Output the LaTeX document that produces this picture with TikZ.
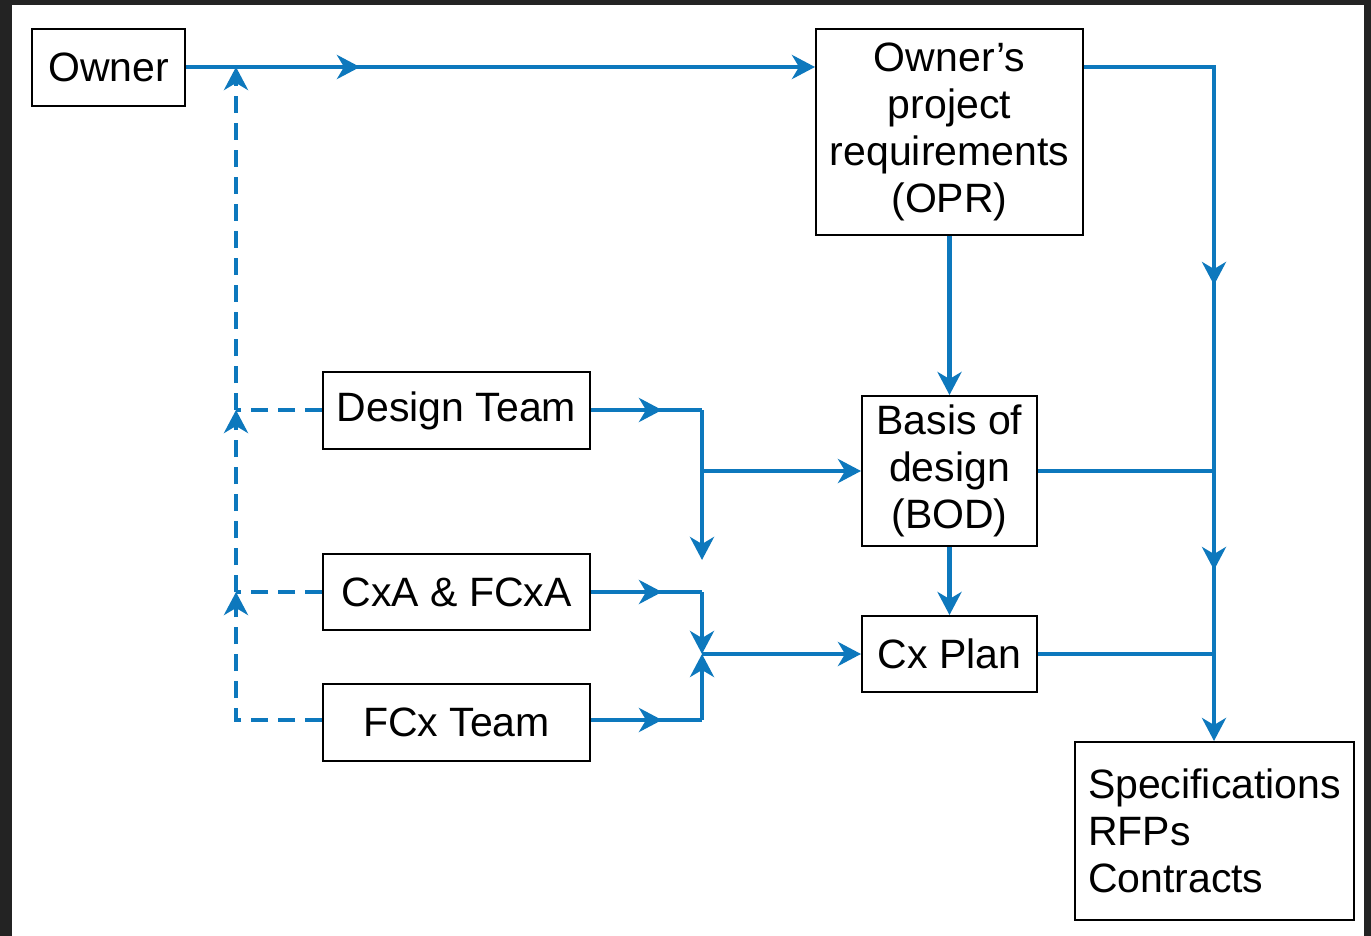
\documentclass[tikz,border=0pt]{standalone}
\usepackage{fontspec}
\setmainfont{Liberation Sans}
\usetikzlibrary{arrows.meta}
\definecolor{flowblue}{HTML}{0D78BD}
\definecolor{frame}{HTML}{232323}

\begin{document}
\begin{tikzpicture}[
  x=0.5pt,y=-0.5pt,
  box/.style={draw,line width=1pt,align=center,inner sep=0pt,
    font=\fontsize{20.5}{23.5}\selectfont},
  tip/.style={-{Stealth[length=11.5pt,width=12pt,inset=3.5pt]}},
  link/.style={flowblue,line width=2.4pt},
  flow/.style={link,tip},
  back/.style={link,dash pattern=on 8.5pt off 5pt}
]
% frame and page
\fill[frame] (0,0) rectangle (1371,936);
\fill[white] (12,5) rectangle (1364,936);

% boxes
\node[box,minimum width=76.5pt,minimum height=38.5pt] (owner) at (108.5,67.5) {Owner};
\node[box,minimum width=133.5pt,minimum height=103pt] (opr) at (949.5,132)
  {Owner’s\\project\\requirements\\(OPR)};
\node[box,minimum width=133.5pt,minimum height=38.5pt] (design) at (456.5,410.5) {Design Team};
\node[box,minimum width=133.5pt,minimum height=38pt] (cxa) at (456.5,592) {CxA \& FCxA};
\node[box,minimum width=133.5pt,minimum height=38.5pt] (fcx) at (456.5,722.5) {FCx Team};
\node[box,minimum width=87.5pt,minimum height=75pt] (bod) at (949.5,471) {Basis of\\design\\(BOD)};
\node[box,minimum width=87.5pt,minimum height=38pt] (cx) at (949.5,654) {Cx Plan};
\node[box,minimum width=139.5pt,minimum height=89pt,align=left] (spec) at (1214.5,831)
  {Specifications\\RFPs\\Contracts};

% bends and mid arrows
\coordinate (m1) at (360,67);
\coordinate (s1) at (1214,67);
\coordinate (s2) at (1214,285);
\coordinate (s4) at (1214,570);
\coordinate (d1) at (662,410);
\coordinate (d2) at (702,410);
\coordinate (d4) at (702,560);
\coordinate (c1) at (662,592);
\coordinate (c2) at (702,592);
\coordinate (f1) at (662,720);
\coordinate (f2) at (702,720);
\coordinate (c3) at (d2 |- cx.west);
\coordinate (j0) at (236,67);
\coordinate (jd) at (236,410);
\coordinate (jc) at (236,592);

% owner to OPR
\draw[flow] (owner.east |- m1) -- (m1 -| opr.west);
\draw[flow] (owner.east |- m1) -- (m1);
\draw[flow] (opr) -- (bod);
\draw[flow] (bod) -- (cx);

% right trunk to specifications
\draw[flow] (m1 -| opr.east) -- (s1) -- (s1 |- spec.north);
\draw[flow] (s1) -- (s2);
\draw[flow] (s1) -- (s4);
\draw[link] (bod.east) -- (bod.east -| s1);
\draw[link] (cx.east) -- (cx.east -| s1);

% teams into BOD and Cx plan
\draw[link] (design.east |- d1) -- (d2);
\draw[flow] (design.east |- d1) -- (d1);
\draw[flow] (d2) -- (d4);
\draw[flow] (d2 |- bod.west) -- (bod.west);
\draw[link] (cxa.east |- c1) -- (c2);
\draw[flow] (cxa.east |- c1) -- (c1);
\draw[flow] (c2) -- (c3);
\draw[link] (fcx.east |- f1) -- (f2);
\draw[flow] (fcx.east |- f1) -- (f1);
\draw[flow] (f2) -- (c3);
\draw[flow] (c3) -- (cx.west);

% dashed feedback to owner
\draw[back,tip] (fcx.west |- f1) -- (f1 -| jc) -- (jc);
\draw[back] (cxa.west |- jc) -- (jc);
\draw[back,tip] (jc) -- (jd);
\draw[back] (design.west |- jd) -- (jd);
\draw[back,tip] (jd) -- (j0);
\end{tikzpicture}
\end{document}
